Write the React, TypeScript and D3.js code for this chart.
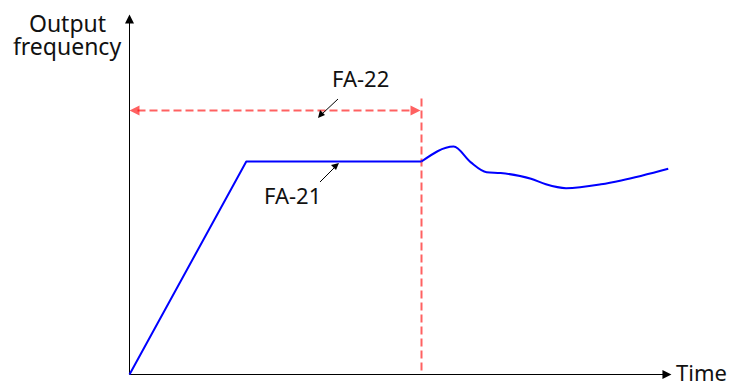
import React from "react";
import * as d3 from "d3";

// time (x) in arbitrary units, output frequency (y) in % of set frequency
const rampTimes = [0, 4, 10];
const rampFreqs = [0, 100, 100];
const waveTimes = [10, 11.1, 11.68, 12.23, 12.71, 13.75, 14.26, 14.95, 16.15, 16.84, 18.45];
const waveFreqs = [100, 107, 99.7, 95.0, 94.6, 91.9, 89.3, 87.5, 89.3, 91.1, 96.6];

const axisEnd = { t: 18.56, f: 169 };
const holdTime = 10; // FA-22 end
const holdFreq = 100; // FA-21 level
const labels = { y: ["Output", "frequency"], x: "Time", fa22: "FA-22", fa21: "FA-21" };

const W = 733;
const H = 385;
const font = "'Noto Sans', sans-serif";

const App: React.FC = () => {
  const x = d3.scaleLinear().domain([0, 10]).range([129.5, 421.5]);
  const y = d3.scaleLinear().domain([0, 100]).range([374.5, 161.5]);

  const ramp = d3
    .line<number>()
    .x((d) => x(d))
    .y((_, i) => y(rampFreqs[i]))(rampTimes);
  const wave = d3
    .line<number>()
    .curve(d3.curveMonotoneX)
    .x((d) => x(d))
    .y((_, i) => y(waveFreqs[i]))(waveTimes);

  const x0 = x(0);
  const y0 = y(0);
  const xEnd = x(axisEnd.t);
  const yTop = y(axisEnd.f);
  const xHold = x(holdTime);
  const yDim = y(124); // FA-22 dimension line
  const red = "rgba(255,0,0,0.62)";

  return (
    <svg
      width={W}
      height={H}
      style={{ position: "absolute", left: 0, top: 0 }}
      fontFamily={font}
    >
      {/* axes */}
      <line x1={x0} y1={y0} x2={xEnd - 6} y2={y0} stroke="#000" strokeWidth={1} />
      <path d={`M${xEnd},${y0} l-9,-4.5 l0,9 z`} fill="#000" />
      <line x1={x0} y1={y0} x2={x0} y2={yTop + 6} stroke="#000" strokeWidth={1} />
      <path d={`M${x0},${yTop} l-4.5,9 l9,0 z`} fill="#000" />

      <text x={67.5} y={32} fontSize={23} textAnchor="middle" fill="#111">
        {labels.y[0]}
      </text>
      <text x={67} y={54.5} fontSize={23} textAnchor="middle" fill="#111">
        {labels.y[1]}
      </text>
      <text x={676} y={381} fontSize={22} fill="#111">
        {labels.x}
      </text>

      {/* FA-22 hold time */}
      <line
        x1={xHold}
        y1={y(124) - 12}
        x2={xHold}
        y2={y0}
        stroke={red}
        strokeWidth={2}
        strokeDasharray="8,4"
      />
      <line
        x1={x0 + 8}
        y1={yDim}
        x2={xHold - 10}
        y2={yDim}
        stroke={red}
        strokeWidth={2}
        strokeDasharray="8,4"
      />
      <path d={`M${x0},${yDim} l10,-5 l0,10 z`} fill={red} />
      <path d={`M${xHold - 1},${yDim} l-10,-5 l0,10 z`} fill={red} />

      {/* output frequency */}
      <path d={ramp ?? ""} fill="none" stroke="#0000ff" strokeWidth={2} strokeLinejoin="round" />
      <path d={wave ?? ""} fill="none" stroke="#0000ff" strokeWidth={2} />

      {/* annotations */}
      <text x={332} y={87} fontSize={22} fill="#111">
        {labels.fa22}
      </text>
      <line x1={338} y1={99} x2={322} y2={114} stroke="#000" strokeWidth={1} />
      <path d="M318,118 l2,-8 l5,5 z" fill="#000" />

      <text x={264} y={204} fontSize={22} fill="#111">
        {labels.fa21}
      </text>
      <line x1={320} y1={182} x2={335} y2={167} stroke="#000" strokeWidth={1} />
      <path d={`M${339},${y(holdFreq) + 1.5} l-8,2 l5,5 z`} fill="#000" />
    </svg>
  );
};

export default App;
